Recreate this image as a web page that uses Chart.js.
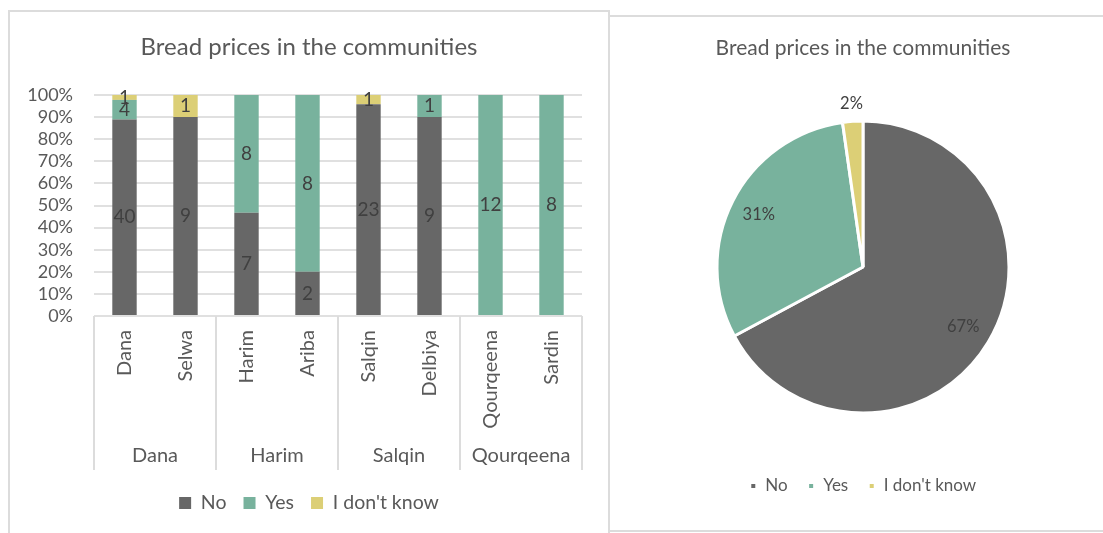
<!DOCTYPE html>
<html><head><meta charset="utf-8">
<script src="https://cdn.jsdelivr.net/npm/chart.js@4.4.0/dist/chart.umd.min.js"></script>
<style>
html,body{margin:0;padding:0;background:#fff;width:1103px;height:533px;overflow:hidden;position:relative;}
#boxL{position:absolute;left:8px;top:10px;width:602px;height:540px;border:2px solid #dcdcdc;border-bottom:none;box-sizing:border-box;}
#boxR{position:absolute;left:608px;top:15px;width:520px;height:517px;border:2px solid #dcdcdc;box-sizing:border-box;}
#cL{position:absolute;left:10px;top:12px;}
#cR{position:absolute;left:610px;top:17px;}
</style></head>
<body>
<div id="boxL"></div>
<div id="boxR"></div>
<canvas id="cL" width="598" height="521" style="width:598px;height:521px"></canvas>
<canvas id="cR" width="506" height="513" style="width:506px;height:513px"></canvas>
<script>
// ---- data ----
const title = 'Bread prices in the communities';
const communities = ['Dana', 'Selwa', 'Harim', 'Ariba', 'Salqin', 'Delbiya', 'Qourqeena', 'Sardin'];
const groups = ['Dana', 'Harim', 'Salqin', 'Qourqeena'];
const seriesNames = ['No', 'Yes', "I don't know"];
const noCounts   = [40, 9, 7, 2, 23, 9, 0, 0];
const yesCounts  = [4, 0, 8, 8, 0, 1, 12, 8];
const idkCounts  = [1, 1, 0, 0, 1, 0, 0, 0];
const pieValues  = [90, 41, 3];
const yTicks = [0, 10, 20, 30, 40, 50, 60, 70, 80, 90, 100];

const colors = ['#676767', '#78B29D', '#DCCF76'];
const FONT = 'Lato, "Open Sans", sans-serif';
const TXT = '#595959';
const LBL = '#404040';

// percentages for 100% stacking
const countSeries = [noCounts, yesCounts, idkCounts];
const totals = communities.map((_, i) => noCounts[i] + yesCounts[i] + idkCounts[i]);
const pctSeries = countSeries.map(s => s.map((v, i) => v / totals[i] * 100));

Chart.defaults.font.family = FONT;
Chart.defaults.color = TXT;
Chart.defaults.animation = false;

const barLabels = {
  id: 'barLabels',
  afterDatasetsDraw(chart) {
    const ctx = chart.ctx;
    ctx.save();
    ctx.font = '19px ' + FONT;
    ctx.fillStyle = LBL;
    ctx.textAlign = 'center';
    ctx.textBaseline = 'middle';
    countSeries.forEach((s, di) => {
      const meta = chart.getDatasetMeta(di);
      meta.data.forEach((el, i) => {
        if (!s[i]) return;
        ctx.fillText(String(s[i]), el.x, (el.y + el.base) / 2);
      });
    });
    ctx.restore();
  }
};

const groupLines = {
  id: 'groupLines',
  afterDraw(chart) {
    const x = chart.scales.x, x2 = chart.scales.x2;
    const ctx = chart.ctx;
    ctx.save();
    ctx.strokeStyle = '#dcdcdc';
    ctx.lineWidth = 2;
    const top = chart.chartArea.bottom;
    const bottom = x2.top + 42;
    for (let g = 0; g <= groups.length; g++) {
      const px = Math.round(x.getPixelForValue(g * 2 - 0.5));
      ctx.beginPath();
      ctx.moveTo(px, top);
      ctx.lineTo(px, bottom);
      ctx.stroke();
    }
    ctx.restore();
  }
};

new Chart(document.getElementById('cL'), {
  type: 'bar',
  data: {
    labels: communities,
    datasets: seriesNames.map((n, i) => ({
      label: n,
      data: pctSeries[i],
      backgroundColor: colors[i],
      borderWidth: 0,
      categoryPercentage: 1,
      barPercentage: 0.4
    }))
  },
  options: {
    responsive: false,
    layout: { padding: { left: 0, right: 0, top: 0, bottom: 10.25 } },
    plugins: {
      title: { display: true, text: title, color: TXT, font: { size: 24, weight: 'normal' }, padding: { top: 20.6, bottom: 33.6 } },
      legend: { position: 'bottom', labels: { font: { size: 19.5 }, color: TXT, boxWidth: 12, boxHeight: 12, padding: 17 } },
      tooltip: { enabled: false }
    },
    scales: {
      x: {
        stacked: true,
        grid: { display: false, drawTicks: false },
        border: { display: false },
        ticks: { minRotation: 90, maxRotation: 90, autoSkip: false, padding: 14, font: { size: 20 }, color: TXT },
        afterFit(s) { s.height = 112; }
      },
      x2: {
        type: 'category',
        labels: groups,
        position: 'bottom',
        weight: 1,
        offset: true,
        grid: { display: false, drawTicks: false },
        border: { display: false },
        ticks: { padding: 16, font: { size: 20 }, color: TXT, autoSkip: false, maxRotation: 0 },
        afterFit(s) { s.height = 48.25; }
      },
      y: {
        stacked: true,
        min: 0, max: 100,
        afterBuildTicks(s) { s.ticks = yTicks.map(v => ({ value: v })); },
        grid: { color: '#e0e0e0', lineWidth: 2, drawTicks: false },
        border: { display: false },
        ticks: { autoSkip: false, padding: 21, font: { size: 18 }, color: TXT, callback: v => v + '%' },
        afterFit(s) { s.width = 84; }
      },
      yRight: {
        type: 'linear',
        position: 'right',
        grid: { display: false, drawTicks: false },
        border: { display: false },
        ticks: { display: false },
        afterFit(s) { s.width = 26; }
      }
    }
  },
  plugins: [barLabels, groupLines]
});

const pieLabels = {
  id: 'pieLabels',
  afterDatasetsDraw(chart) {
    const ctx = chart.ctx;
    const meta = chart.getDatasetMeta(0);
    const sum = pieValues.reduce((a, b) => a + b, 0);
    ctx.save();
    ctx.font = '16.5px ' + FONT;
    ctx.fillStyle = LBL;
    ctx.textAlign = 'center';
    ctx.textBaseline = 'middle';
    meta.data.forEach((arc, i) => {
      const p = arc.getProps(['x', 'y', 'startAngle', 'endAngle', 'outerRadius']);
      const mid = (p.startAngle + p.endAngle) / 2;
      const frac = pieValues[i] / sum;
      const r = frac < 0.05 ? p.outerRadius + 18 : p.outerRadius * 0.8;
      ctx.fillText(Math.round(frac * 100) + '%', p.x + Math.cos(mid) * r, p.y + Math.sin(mid) * r);
    });
    ctx.restore();
  }
};

new Chart(document.getElementById('cR'), {
  type: 'pie',
  data: {
    labels: seriesNames,
    datasets: [{ data: pieValues, backgroundColor: colors, borderColor: '#ffffff', borderWidth: 3 }]
  },
  options: {
    responsive: false,
    radius: 146,
    layout: { padding: { left: 0, right: 0, top: 0, bottom: 25.5 } },
    plugins: {
      title: { display: true, text: title, color: TXT, font: { size: 21, weight: 'normal' }, padding: { top: 18.4, bottom: 15.9 } },
      legend: { position: 'bottom', labels: { font: { size: 17 }, color: TXT, boxWidth: 7, boxHeight: 7, padding: 20 } },
      tooltip: { enabled: false }
    }
  },
  plugins: [pieLabels]
});
</script>
</body></html>
